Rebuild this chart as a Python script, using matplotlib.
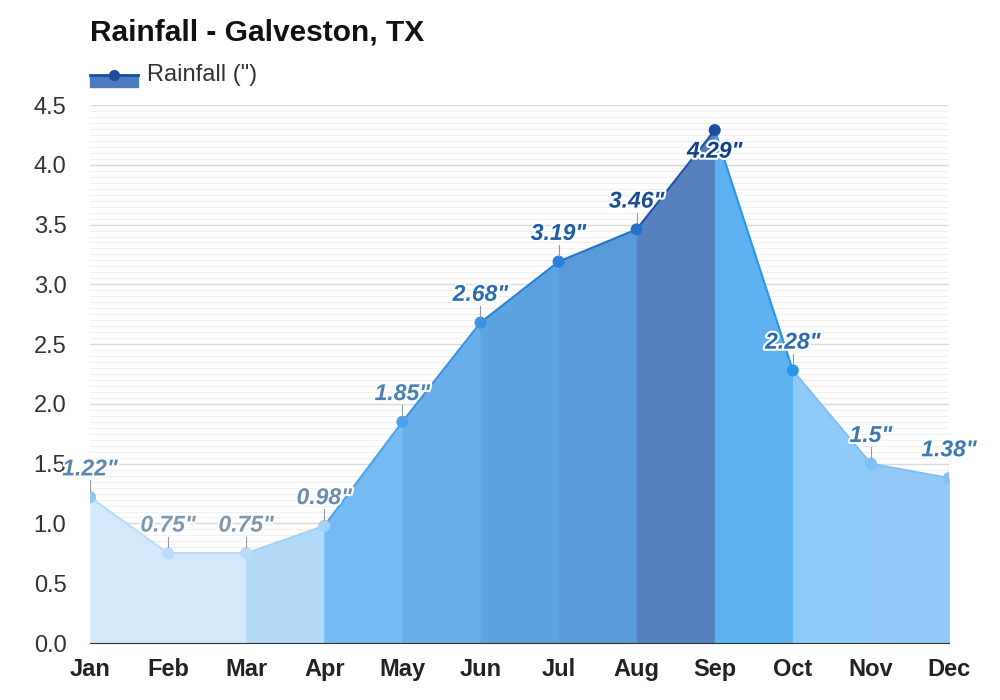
import matplotlib.pyplot as plt
import matplotlib.patheffects as pe
import numpy as np

plt.rcParams["font.family"] = ["Liberation Sans", "DejaVu Sans"]

months = ["Jan", "Feb", "Mar", "Apr", "May", "Jun", "Jul", "Aug", "Sep", "Oct", "Nov", "Dec"]
rain = [1.22, 0.75, 0.75, 0.98, 1.85, 2.68, 3.19, 3.46, 4.29, 2.28, 1.5, 1.38]
labels = ['1.22"', '0.75"', '0.75"', '0.98"', '1.85"', '2.68"', '3.19"', '3.46"', '4.29"', '2.28"', '1.5"', '1.38"']

# colour of the area segment starting at each month
fill_colors = ["#d3e9fb", "#d3e9fb", "#b3d9f8", "#74bbf4", "#68afea", "#5ca3e1",
               "#5a9ad9", "#5580bd", "#5db1f1", "#8fc9f7", "#93c8f6"]
line_colors = ["#b8dcf9", "#b8dcf9", "#a3d1f7", "#4ba3ee", "#3d93e2", "#2b80d6",
               "#2472c9", "#1b55a8", "#2a97ea", "#7ec0f5", "#82c0f4"]
marker_colors = ["#8fc6f5", "#b8dcf9", "#b8dcf9", "#a3d1f7", "#4ba3ee", "#3d93e2",
                 "#2b80d6", "#2472c9", "#1a4da0", "#2a97ea", "#7ec0f5", "#82c0f4"]
label_colors = ["#5d86ad", "#7f98b2", "#7f98b2", "#6c8cab", "#4a80b4", "#2d6db0",
                "#1d5ca6", "#1a4c98", "#123f8c", "#2b6ab0", "#3b79b3", "#3d79b0"]

fig = plt.figure(figsize=(10, 7), dpi=100)
ax = fig.add_axes([0.09, 0.0814, 0.859, 0.7686])

x = np.arange(len(months))
for i in range(len(months) - 1):
    ax.fill_between(x[i:i + 2], rain[i:i + 2], 0, facecolor=fill_colors[i],
                    edgecolor=fill_colors[i], lw=0.6, zorder=2)
for i in range(len(months) - 1):
    ax.plot(x[i:i + 2], rain[i:i + 2], color=line_colors[i], lw=1.5, zorder=3,
            solid_capstyle="round")

ax.scatter(x, rain, s=75, c=marker_colors, zorder=4, edgecolors="none")

for i, v in enumerate(rain):
    if v > 4.1:
        # no room above the top point: label goes just below it
        ax.text(x[i], v - 0.08, labels[i], ha="center", va="top", fontsize=16.5,
                fontweight="bold", fontstyle="italic", color=label_colors[i], zorder=5,
                path_effects=[pe.withStroke(linewidth=3, foreground="white")])
        continue
    ax.plot([x[i], x[i]], [v + 0.05, v + 0.14], color="#999999", lw=0.8, zorder=4)
    ax.text(x[i], v + 0.14, labels[i], ha="center", va="bottom", fontsize=16.5,
            fontweight="bold", fontstyle="italic", color=label_colors[i], zorder=5,
            path_effects=[pe.withStroke(linewidth=3, foreground="white")])

ax.set_xlim(0, 11)
ax.set_ylim(0, 4.5)
ax.set_yticks(np.arange(0, 4.51, 0.5))
ax.set_yticklabels([f"{t:.1f}" for t in np.arange(0, 4.51, 0.5)])
ax.set_yticks(np.arange(0, 4.51, 0.05), minor=True)
ax.set_xticks(x)
ax.set_xticklabels(months, fontweight="bold")
ax.grid(axis="y", which="major", color="#d9d9d9", lw=1, zorder=0)
ax.grid(axis="y", which="minor", color="#f0f0f0", lw=0.8, zorder=0)
ax.set_axisbelow(True)
ax.tick_params(axis="both", which="both", length=0, labelsize=17, colors="#333333")
ax.tick_params(axis="x", pad=11, labelcolor="#222222")
ax.tick_params(axis="y", pad=17)
for s in ["top", "right", "left"]:
    ax.spines[s].set_visible(False)
ax.spines["bottom"].set_color("#333333")

fig.text(0.09, 0.953, "Rainfall - Galveston, TX", fontsize=21.5, fontweight="bold",
         ha="left", va="center", color="#111111")

# legend icon
fig.patches.append(plt.Rectangle((0.09, 0.876), 0.048, 0.017, transform=fig.transFigure,
                                 color="#4a7bbd", figure=fig))
fig.lines.append(plt.Line2D([0.09, 0.138], [0.893, 0.893], transform=fig.transFigure,
                            color="#1a4da0", lw=2, figure=fig))
fig.lines.append(plt.Line2D([0.114], [0.893], transform=fig.transFigure, marker="o",
                            ms=7, color="#1a4da0", figure=fig))
fig.text(0.147, 0.893, 'Rainfall (")', fontsize=17, ha="left", va="center", color="#333333")

fig.savefig("out.png", dpi=100, facecolor="white")
